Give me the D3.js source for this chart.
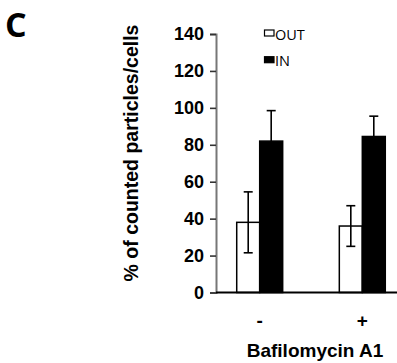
<!DOCTYPE html>
<html><head><meta charset="utf-8">
<script src="https://cdn.jsdelivr.net/npm/d3@7/dist/d3.min.js"></script>
<style>body{margin:0;background:#fff}svg{display:block}</style>
</head><body>
<script>
const categories = ["-", "+"];
const seriesNames = ["OUT", "IN"];
const outValues = [38, 36];
const outErrors = [16.5, 11];
const inValues = [82, 84.5];
const inErrors = [16.5, 11];
const yTicks = [0, 20, 40, 60, 80, 100, 120, 140];
const xTitle = "Bafilomycin A1";
const yTitle = "% of counted particles/cells";
const panelLabel = "C";

const W = 397, H = 363;
const svg = d3.select("body").append("svg").attr("width", W).attr("height", H);

const x0 = 216, x1 = 397;
const y = d3.scaleLinear().domain([0, 140]).range([292.5, 34]);
const xBand = d3.scaleBand().domain(categories).range([220.3, 401.7]).paddingInner(0.552).paddingOuter(0.16);
const xSub = d3.scaleBand().domain(seriesNames).range([0, xBand.bandwidth()]);

const data = categories.map((c, i) => ({
  cat: c,
  vals: [
    {s: "OUT", v: outValues[i], e: outErrors[i]},
    {s: "IN", v: inValues[i], e: inErrors[i]}
  ]
}));

const fills = {OUT: "#fff", IN: "#000"};
const font = "Liberation Sans, Arial, sans-serif";

const g = svg.append("g");
data.forEach(d => {
  d.vals.forEach(b => {
    const bx = xBand(d.cat) + xSub(b.s);
    g.append("rect")
      .attr("x", bx).attr("y", y(b.v))
      .attr("width", xSub.bandwidth()).attr("height", y(0) - y(b.v))
      .attr("fill", fills[b.s]).attr("stroke", "#000").attr("stroke-width", 1.5);
    const cx = bx + xSub.bandwidth()/2;
    g.append("line").attr("x1", cx).attr("x2", cx).attr("y1", y(b.v + b.e)).attr("y2", y(b.v - b.e))
      .attr("stroke", "#000").attr("stroke-width", 1.6);
    [b.v + b.e, b.v - b.e].forEach(t => {
      g.append("line").attr("x1", cx - 4.5).attr("x2", cx + 4.5).attr("y1", y(t)).attr("y2", y(t))
        .attr("stroke", "#000").attr("stroke-width", 1.6);
    });
  });
});

// Y axis
const yAxis = d3.axisLeft(y).tickValues(yTicks).tickSize(6).tickPadding(6);
const ya = svg.append("g").attr("transform", `translate(${x0},0)`).call(yAxis);
ya.select(".domain").attr("stroke", "#777").attr("stroke-width", 2);
ya.selectAll(".tick line").attr("stroke", "#333").attr("stroke-width", 1.6);
ya.selectAll(".tick text").attr("font-family", font)
  .attr("font-weight", "bold").attr("font-size", 18).attr("fill", "#000");

// X axis line
svg.append("line").attr("x1", x0).attr("x2", x1).attr("y1", y(0)).attr("y2", y(0))
  .attr("stroke", "#000").attr("stroke-width", 2);

// X tick labels
categories.forEach(c => {
  svg.append("text").attr("x", xBand(c) + xBand.bandwidth()/2).attr("y", 327)
    .attr("text-anchor", "middle").attr("font-family", font)
    .attr("font-weight", "bold").attr("font-size", 19).text(c);
});

svg.append("text").attr("x", 315).attr("y", 357).attr("text-anchor", "middle")
  .attr("font-family", font).attr("font-weight", "bold")
  .attr("font-size", 19).text(xTitle);

svg.append("text").attr("transform", "translate(138,153) rotate(-90)").attr("text-anchor", "middle")
  .attr("font-family", font).attr("font-weight", "bold")
  .attr("font-size", 19.5).text(yTitle);

// Legend
seriesNames.forEach((s, i) => {
  const ly = 30 + i * 26.7;
  svg.append("rect").attr("x", 264.5).attr("y", ly).attr("width", 9.5).attr("height", 6)
    .attr("fill", fills[s]).attr("stroke", "#000").attr("stroke-width", 1.2);
  svg.append("text").attr("x", 275).attr("y", ly + 9.5)
    .attr("font-family", "Open Sans, sans-serif").attr("font-size", 14.5).attr("fill", "#000").text(s);
});

svg.append("text").attr("x", 5).attr("y", 37).attr("font-family", "Open Sans, sans-serif")
  .attr("font-weight", "bold").attr("font-size", 34).text(panelLabel);
</script>
</body></html>
